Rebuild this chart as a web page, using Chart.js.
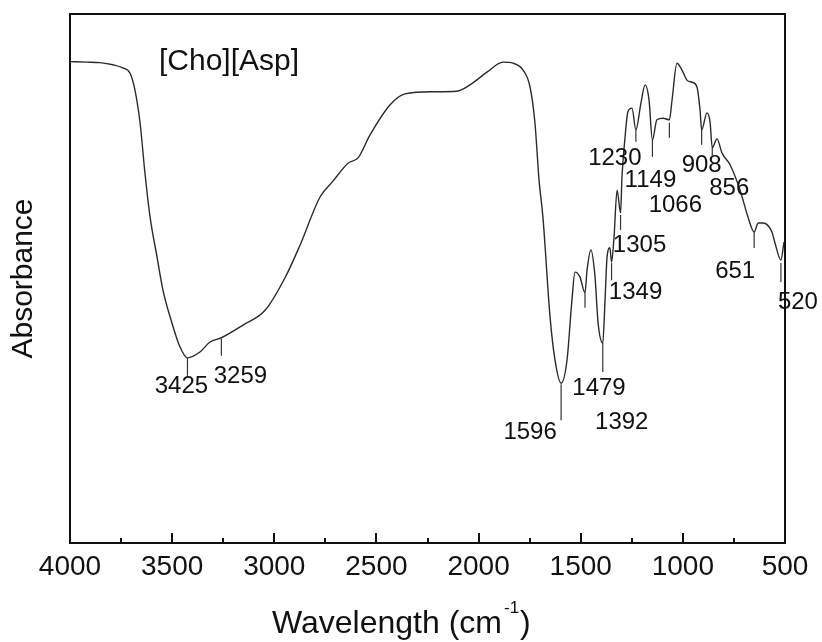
<!DOCTYPE html>
<html>
<head>
<meta charset="utf-8">
<title>[Cho][Asp] IR spectrum</title>
<script src="https://cdn.jsdelivr.net/npm/chart.js@4.4.1/dist/chart.umd.min.js"></script>
<style>
  html, body { margin: 0; padding: 0; background: #fff; }
  canvas { display: block; }
</style>
</head>
<body>
<canvas id="irChart" width="822" height="642"></canvas>
<script>
/* ── DATA ───────────────────────────────────────────────── */
const wavenumbers = [
  4000, 3920, 3853, 3790, 3741, 3706, 3682, 3657, 3633, 3608, 3574, 3545, 3501, 3462,
  3425, 3364, 3315, 3259, 3153, 3045, 2948, 2874, 2776, 2713, 2639, 2590, 2532, 2434,
  2360, 2223, 2106, 2042, 1959, 1880, 1831, 1782, 1748, 1724, 1704, 1685, 1650, 1626,
  1596, 1567, 1543, 1528, 1504, 1479, 1469, 1450, 1430, 1415, 1392, 1381, 1371, 1357,
  1349, 1337, 1322, 1305, 1298, 1283, 1269, 1249, 1230, 1205, 1185, 1166, 1149, 1127,
  1097, 1066, 1053, 1029, 1004, 980, 955, 931, 916, 908, 882, 867, 856, 833, 808, 769,
  720, 681, 651, 631, 608, 564, 549, 520, 505
];
const absorbance = [
  91.0, 90.9, 90.8, 90.4, 89.8, 88.8, 85.6, 79.4, 69.9, 61.6, 54.1, 47.8, 41.6, 37.1,
  35.0, 36.1, 38.0, 38.8, 41.2, 44.0, 50.1, 56.3, 65.4, 68.4, 71.8, 72.8, 77.1, 82.8,
  84.9, 85.3, 85.4, 86.6, 89.0, 90.9, 90.7, 89.4, 86.2, 79.4, 68.6, 61.6, 42.7, 34.6,
  30.2, 34.6, 45.9, 51.2, 50.3, 47.3, 51.6, 55.4, 50.3, 41.6, 37.8, 45.9, 54.1, 55.8,
  53.1, 57.8, 66.7, 62.4, 69.2, 76.7, 81.5, 82.2, 78.1, 83.2, 86.6, 83.9, 76.2, 80.0,
  80.3, 80.0, 83.7, 90.7, 89.4, 87.5, 87.1, 86.2, 81.9, 78.1, 81.3, 79.6, 74.7, 76.4, 73.7, 71.5,
  66.7, 61.6, 58.8, 60.5, 60.5, 58.8, 56.7, 53.5, 56.9
];
const xMajorTicks = [4000, 3500, 3000, 2500, 2000, 1500, 1000, 500];
const xMinorTicks = [3750, 3250, 2750, 2250, 1750, 1250, 750];
const peakPositions = [3425, 3259, 1596, 1479, 1392, 1349, 1305, 1230, 1149, 1066, 908, 856, 651, 520];
const sampleName = '[Cho][Asp]';

/* ── ANNOTATION LAYOUT (pixel offsets from the curve point) ── */
const peakMarkLayout = [
  { tick: [0, 18], dx: -6,  dy: 29 },
  { tick: [1, 18], dx: 19,  dy: 39 },
  { tick: [1, 37], dx: -31, dy: 49 },
  { tick: [0, 15], dx: 14,  dy: 96 },
  { tick: [0, 29], dx: 19,  dy: 79 },
  { tick: [1, 18], dx: 24,  dy: 30 },
  { tick: [2, 17], dx: 19,  dy: 32 },
  { tick: [0, 12], dx: -21, dy: 29 },
  { tick: [0, 17], dx: -2,  dy: 40 },
  { tick: [3, 18], dx: 6,   dy: 86 },
  { tick: [0, 15], dx: 0,   dy: 36 },
  { tick: [0, 8],  dx: 17,  dy: 41 },
  { tick: [0, 16], dx: -19, dy: 39 },
  { tick: [3, 22], dx: 17,  dy: 42 }
];

const FONT = '"Liberation Sans", Arial, Helvetica, sans-serif';
const INK = '#111';
Chart.defaults.font.family = FONT;
Chart.defaults.color = INK;

/* ── FRAME, TICKS, PEAK MARKS, LABELS ───────────────────── */
const decorPlugin = {
  id: 'decor',
  afterDraw(chart) {
    const { ctx, chartArea: a, scales: { x, y } } = chart;
    ctx.save();

    // frame
    ctx.strokeStyle = INK;
    ctx.lineWidth = 2;
    ctx.strokeRect(a.left, a.top, a.right - a.left, a.bottom - a.top);

    // inward ticks on the bottom axis
    ctx.beginPath();
    xMajorTicks.forEach(v => {
      const px = Math.round(x.getPixelForValue(v));
      ctx.moveTo(px, a.bottom); ctx.lineTo(px, a.bottom - 10);
    });
    xMinorTicks.forEach(v => {
      const px = Math.round(x.getPixelForValue(v));
      ctx.moveTo(px, a.bottom); ctx.lineTo(px, a.bottom - 5);
    });
    ctx.stroke();

    // peak marks
    ctx.lineWidth = 1.2;
    ctx.strokeStyle = '#333';
    ctx.font = '24px ' + FONT;
    ctx.fillStyle = INK;
    ctx.textAlign = 'center';
    ctx.textBaseline = 'middle';
    peakPositions.forEach((wn, i) => {
      const idx = wavenumbers.indexOf(wn);
      const px = x.getPixelForValue(wn);
      const py = y.getPixelForValue(absorbance[idx]);
      const m = peakMarkLayout[i];
      ctx.beginPath();
      ctx.moveTo(px, py + m.tick[0]);
      ctx.lineTo(px, py + m.tick[1]);
      ctx.stroke();
      ctx.fillText(String(wn), px + m.dx, py + m.dy);
    });

    // sample name
    ctx.font = '30px ' + FONT;
    ctx.textAlign = 'left';
    ctx.textBaseline = 'alphabetic';
    ctx.fillText(sampleName, 159, 70);

    // x axis title with superscript
    const base = 633;
    let tx = 272;
    ctx.font = '32px ' + FONT;
    ctx.fillText('Wavelength (cm', tx, base);
    tx += ctx.measureText('Wavelength (cm').width + 2;
    ctx.font = '17px ' + FONT;
    ctx.fillText('-1', tx, base - 20);
    tx += ctx.measureText('-1').width + 1;
    ctx.font = '32px ' + FONT;
    ctx.fillText(')', tx, base);

    ctx.restore();
  }
};

/* ── CHART ──────────────────────────────────────────────── */
new Chart(document.getElementById('irChart'), {
  type: 'line',
  data: {
    datasets: [{
      data: wavenumbers.map((w, i) => ({ x: w, y: absorbance[i] })),
      borderColor: '#2a2a2a',
      borderWidth: 1.4,
      pointRadius: 0,
      fill: false,
      cubicInterpolationMode: 'monotone'
    }]
  },
  options: {
    responsive: false,
    animation: false,
    devicePixelRatio: 1,
    layout: { padding: { top: 14, right: 37, left: 0, bottom: 0 } },
    plugins: { legend: { display: false }, tooltip: { enabled: false } },
    scales: {
      x: {
        type: 'linear',
        reverse: true,
        min: 500, max: 4000,
        afterBuildTicks: s => { s.ticks = xMajorTicks.map(v => ({ value: v })); },
        afterFit: s => { s.height = 99; },
        grid: { display: false, drawTicks: false },
        border: { display: false },
        ticks: {
          font: { size: 28 }, padding: 7, color: INK, maxRotation: 0, autoSkip: false,
          callback: v => String(v)
        }
      },
      y: {
        min: 0, max: 100,
        afterFit: s => { s.width = 70; },
        grid: { display: false, drawTicks: false },
        border: { display: false },
        ticks: { display: false },
        title: {
          display: true, text: 'Absorbance', color: INK,
          font: { size: 30 }, padding: { top: 6, bottom: 0 }
        }
      }
    }
  },
  plugins: [decorPlugin]
});
</script>
</body>
</html>
